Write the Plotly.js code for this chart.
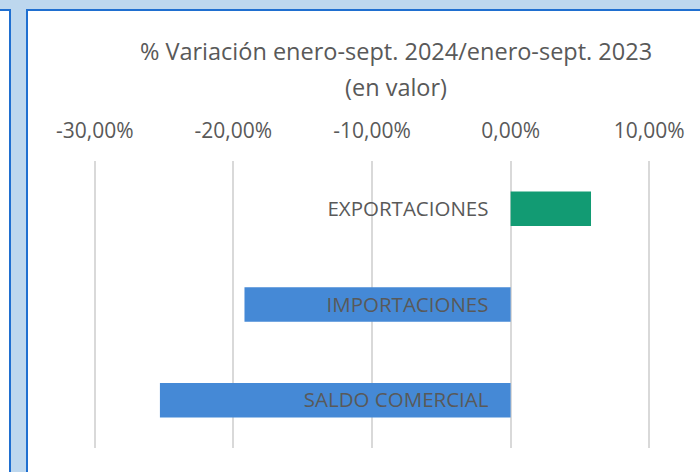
<!DOCTYPE html>
<html>
<head>
<meta charset="utf-8">
<script src="https://cdn.plot.ly/plotly-3.0.1.min.js"></script>
<style>html,body{margin:0;padding:0;background:#bdd7ee;}#chart{width:700px;height:472px;}</style>
</head>
<body>
<div id="chart"></div>
<script>
// ---- data ----
const categories = ["EXPORTACIONES", "IMPORTACIONES", "SALDO COMERCIAL"];
const variation = [5.8, -19.2, -25.3];           // % variation
const barColors = ["#129b73", "#4589d6", "#4589d6"];
const tickValues = [-30, -20, -10, 0, 10];
const tickLabels = ["-30,00%", "-20,00%", "-10,00%", "0,00%", "10,00%"];
const titleLine1 = "% Variación enero-sept. 2024/enero-sept. 2023";
const titleLine2 = "(en valor)";

// ---- layout helpers (pixel -> paper) ----
const L = 92, R = 652, T = 161, B = 448;
const X0 = -30.2, X1 = 10.2;
const px = x => (x - L) / (R - L);
const py = y => (B - y) / (B - T);
const zeroPx = L + (0 - X0) / (X1 - X0) * (R - L);

const FONT = "'Open Sans', sans-serif";
const TXT = "#595959";
const BORDER = "#1f6fd0";

const trace = {
  type: "bar",
  orientation: "h",
  y: categories,
  x: variation,
  marker: { color: barColors, line: { width: 0 } },
  width: 0.36,
  hoverinfo: "none"
};

const layout = {
  width: 700, height: 472,
  margin: { l: L, r: 700 - R, t: T, b: 472 - B, pad: 0 },
  paper_bgcolor: "#bdd7ee",
  plot_bgcolor: "rgba(0,0,0,0)",
  showlegend: false,
  font: { family: FONT, color: TXT },
  title: {
    text: titleLine1,
    font: { family: FONT, size: 23.5, color: TXT },
    xref: "container", yref: "container",
    x: 396 / 700, xanchor: "center",
    y: 1 - 52 / 472, yanchor: "middle"
  },
  xaxis: {
    side: "top",
    range: [X0, X1],
    tickvals: tickValues,
    ticktext: tickLabels,
    tickfont: { family: FONT, size: 21, color: TXT },
    ticks: "outside", ticklen: 14, tickcolor: "rgba(0,0,0,0)",
    showgrid: true, gridcolor: "#d9d9d9", gridwidth: 2,
    zeroline: false, showline: false, fixedrange: true
  },
  yaxis: {
    type: "category",
    range: [2.5, -0.5],
    anchor: "free", position: px(zeroPx),
    ticks: "outside", ticklen: 18, tickcolor: "rgba(0,0,0,0)",
    tickfont: { family: FONT, size: 20.5, color: TXT },
    showgrid: false, zeroline: false, showline: false, fixedrange: true
  },
  annotations: [{
    text: titleLine2, showarrow: false,
    xref: "paper", yref: "paper",
    x: px(396), y: py(87), xanchor: "center", yanchor: "middle",
    font: { family: FONT, size: 23.5, color: TXT }
  }],
  shapes: [
    { type: "rect", layer: "below", xref: "paper", yref: "paper",
      x0: px(-20), x1: px(10), y0: py(10), y1: py(490),
      fillcolor: "#ffffff", line: { color: BORDER, width: 2 } },
    { type: "rect", layer: "below", xref: "paper", yref: "paper",
      x0: px(27), x1: px(720), y0: py(10), y1: py(490),
      fillcolor: "#ffffff", line: { color: BORDER, width: 2 } }
  ]
};

Plotly.newPlot("chart", [trace], layout, { displayModeBar: false, staticPlot: true });
</script>
</body>
</html>
